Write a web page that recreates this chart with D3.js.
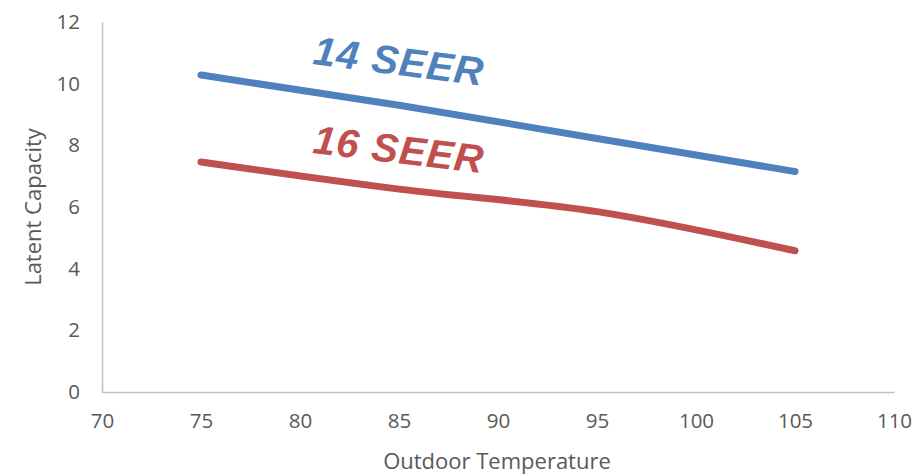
<!DOCTYPE html>
<html>
<head>
<meta charset="utf-8">
<script src="https://cdn.jsdelivr.net/npm/d3@7"></script>
<style>
  html, body { margin: 0; padding: 0; background: #fff; }
  svg { display: block; }
</style>
</head>
<body>
<svg id="chart" width="917" height="476"></svg>
<script>
// Outdoor temperature (°F) sample points
const temperatures = [75, 85, 95, 105];
// Latent capacity for each SEER rating
const seer14 = [10.28, 9.3, 8.22, 7.15];
const seer16 = [7.46, 6.58, 5.85, 4.58];
// Axis ticks
const xTicks = [70, 75, 80, 85, 90, 95, 100, 105, 110];
const yTicks = [0, 2, 4, 6, 8, 10, 12];

const svg = d3.select("#chart");
const x = d3.scaleLinear().domain([70, 110]).range([102, 894]);
const y = d3.scaleLinear().domain([0, 12]).range([392, 22]);

const axisColor = "#BFBFBF";
const textColor = "#595959";
const tickFont = "'Open Sans', sans-serif";

// Axes without tick marks, labels only
const xAxis = d3.axisBottom(x).tickValues(xTicks).tickSize(0).tickPadding(22);
const yAxis = d3.axisLeft(y).tickValues(yTicks).tickSize(0).tickPadding(22);

const gx = svg.append("g").attr("transform", `translate(0,${y(0)})`).call(xAxis);
const gy = svg.append("g").attr("transform", `translate(${x(70)},0)`).call(yAxis);

[gx, gy].forEach(g => {
  g.select(".domain").attr("stroke", axisColor).attr("stroke-width", 1.5);
  g.selectAll("text")
    .attr("fill", textColor)
    .style("font-family", tickFont)
    .style("font-size", "20.5px");
});
gx.selectAll("text").attr("dy", "0.71em").attr("y", 21);

// Axis titles
svg.append("text")
  .attr("x", 497)
  .attr("y", 460)
  .attr("text-anchor", "middle")
  .attr("dominant-baseline", "central")
  .attr("fill", textColor)
  .style("font-family", tickFont)
  .style("font-size", "22px")
  .text("Outdoor Temperature");

svg.append("text")
  .attr("transform", `translate(32,207) rotate(-90)`)
  .attr("text-anchor", "middle")
  .attr("dominant-baseline", "central")
  .attr("fill", textColor)
  .style("font-family", tickFont)
  .style("font-size", "22px")
  .text("Latent Capacity");

// Smoothed series lines
const line = d3.line()
  .x(d => x(d[0]))
  .y(d => y(d[1]))
  .curve(d3.curveMonotoneX);

const series = [
  { name: "14 SEER", values: seer14, color: "#4F81BD" },
  { name: "16 SEER", values: seer16, color: "#C0504D" }
];

svg.selectAll("path.series")
  .data(series)
  .join("path")
  .attr("class", "series")
  .attr("fill", "none")
  .attr("stroke", d => d.color)
  .attr("stroke-width", 7)
  .attr("stroke-linecap", "round")
  .attr("stroke-linejoin", "round")
  .attr("d", d => line(temperatures.map((t, i) => [t, d.values[i]])));

// Series name labels
const labels = [
  { text: "14 SEER", color: "#4F81BD", x: 312, y: 64, angle: 7.3 },
  { text: "16 SEER", color: "#C0504D", x: 312, y: 153, angle: 6.8 }
];

svg.selectAll("text.series-label")
  .data(labels)
  .join("text")
  .attr("class", "series-label")
  .attr("transform", d => `translate(${d.x},${d.y}) rotate(${d.angle})`)
  .attr("fill", d => d.color)
  .style("font-family", "'Liberation Sans', Arial, sans-serif")
  .style("font-weight", "bold")
  .style("font-style", "italic")
  .style("font-size", "40px")
  .style("letter-spacing", "1px")
  .text(d => d.text);
</script>
</body>
</html>
